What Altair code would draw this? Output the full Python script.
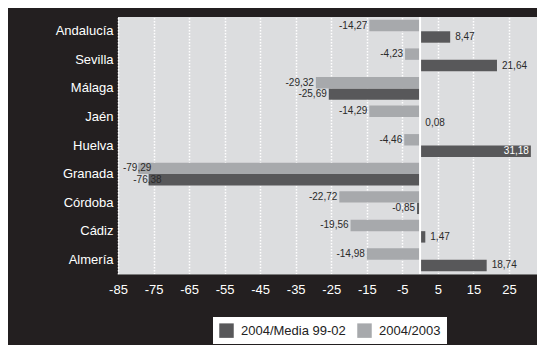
import altair as alt
import pandas as pd

categories = ["Andalucía", "Sevilla", "Málaga", "Jaén", "Huelva",
              "Granada", "Córdoba", "Cádiz", "Almería"]
series_names = ["2004/Media 99-02", "2004/2003"]
media_99_02 = [8.47, 21.64, -25.69, 0.08, 31.18, -76.38, -0.85, 1.47, 18.74]
v_2004_2003 = [-14.27, -4.23, -29.32, -14.29, -4.46, -79.29, -22.72, -19.56, -14.98]
tick_values = [-85, -75, -65, -55, -45, -35, -25, -15, -5, 5, 15, 25, 35]

rows = []
for c, a, b in zip(categories, media_99_02, v_2004_2003):
    rows.append({"cat": c, "serie": series_names[0], "v": a})
    rows.append({"cat": c, "serie": series_names[1], "v": b})
df = pd.DataFrame(rows)

FONT = "Liberation Sans"

x = alt.X("v:Q", title=None,
          scale=alt.Scale(domain=[-85, 32.9], nice=False, zero=False),
          axis=alt.Axis(values=tick_values, tickCount=40, grid=True, gridColor="white",
                        gridDash=[1.5, 1.5], gridWidth=1.5, gridOpacity=1,
                        ticks=False, domain=True, domainColor="#7a7a7a",
                        labelColor="white", labelFont=FONT, labelFontSize=13,
                        labelPadding=9, labelFlush=False, labelOverlap=False,
                        labelExpr="replace(datum.label, '\u2212', '-')"))
y = alt.Y("cat:N", sort=categories, title=None,
          scale=alt.Scale(paddingInner=0.2, paddingOuter=0.1),
          axis=alt.Axis(ticks=False, domain=False, labelColor="white",
                        labelFont=FONT, labelFontSize=13, labelPadding=5))
yoff = alt.YOffset("serie:N", sort=["2004/2003", "2004/Media 99-02"],
                   scale=alt.Scale(paddingInner=0, paddingOuter=0))

base = alt.Chart(df).transform_calculate(
    lbl="replace(replace(format(datum.v, '.2f'), '.', ','), '\u2212', '-')"
)

bars = base.mark_bar().encode(
    x=x, y=y, yOffset=yoff,
    color=alt.Color("serie:N",
                    scale=alt.Scale(domain=series_names, range=["#58585a", "#a7a9ac"]),
                    legend=alt.Legend(orient="none", legendX=95, legendY=300,
                                      direction="horizontal", title=None,
                                      fillColor="white", padding=6,
                                      symbolType="square", symbolSize=210,
                                      symbolStrokeWidth=0, symbolOpacity=1,
                                      labelFont=FONT, labelFontSize=13,
                                      labelColor="#222222", labelOffset=7,
                                      columnPadding=11))
)

zero = alt.Chart(pd.DataFrame({"v": [0]})).mark_rule(color="white", strokeWidth=2).encode(x=x)

txt_common = dict(font=FONT, fontSize=10, baseline="middle")

neg = base.transform_filter("datum.v < 0 && datum.v > -70").mark_text(
    align="right", dx=-2, color="#2a2a2a", **txt_common
).encode(x=x, y=y, yOffset=yoff, text="lbl:N")

pos = base.transform_filter("datum.v >= 0 && datum.v < 25").mark_text(
    align="left", dx=5, color="#2a2a2a", **txt_common
).encode(x=x, y=y, yOffset=yoff, text="lbl:N")

inside = base.transform_filter("datum.v >= 25").mark_text(
    align="right", dx=-2, color="white", **txt_common
).encode(x=x, y=y, yOffset=yoff, text="lbl:N")

far = base.transform_filter("datum.v <= -70").mark_text(
    align="right", dx=13, color="#2a2a2a", **txt_common
).encode(x=x, y=y, yOffset=yoff, text="lbl:N")

chart = alt.layer(bars, zero, neg, pos, inside, far).properties(
    width=419, height=257,
    autosize=alt.AutoSizeParams(type="none"),
    padding={"left": 110, "top": 9, "right": 0, "bottom": 71},
).configure(background="#231f20").configure_view(fill="#dcdddf", stroke=None)

chart.save("out.html", embed_options={"renderer": "svg", "actions": False})
